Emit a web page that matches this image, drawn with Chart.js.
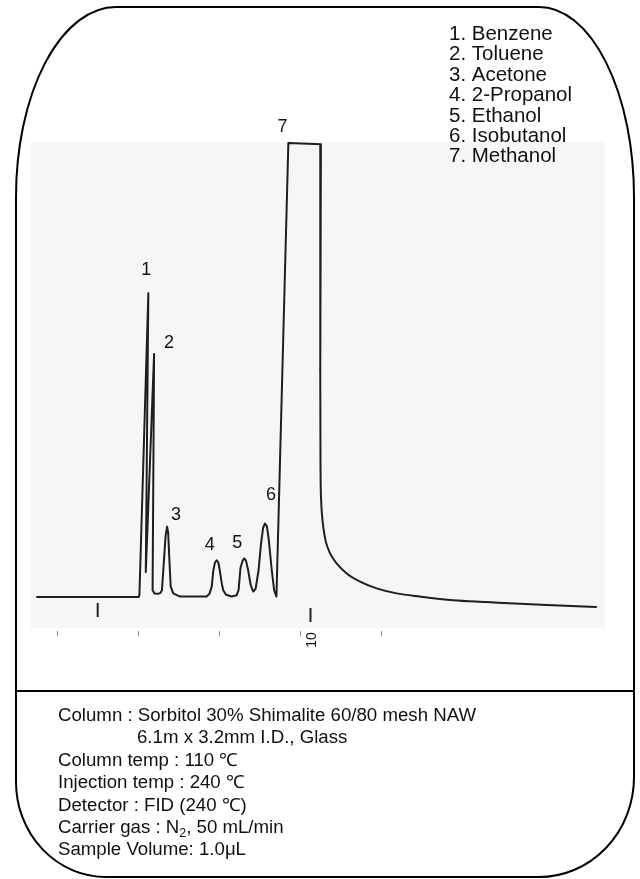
<!DOCTYPE html>
<html>
<head>
<meta charset="utf-8">
<style>
  html, body { margin: 0; padding: 0; background: #ffffff; }
  #wrap { width: 640px; height: 879px; position: relative; }
  canvas { display: block; }
</style>
<script src="https://cdn.jsdelivr.net/npm/chart.js@4.4.1/dist/chart.umd.min.js"></script>
</head>
<body>
<div id="wrap"><canvas id="gc" width="640" height="879"></canvas></div>
<script>
// Recorder trace up to the saturated methanol peak: time (min), signal (% full scale)
const traceTime = [
  -2.85, 1.92, 1.96, 2.38, 2.26, 2.65, 2.58, 2.67, 2.83, 2.95,
  3.02, 3.19, 3.26, 3.31, 3.37, 3.43, 3.55, 3.87, 5.12, 5.25,
  5.36, 5.43, 5.51, 5.59, 5.67, 5.75, 5.83, 5.90, 6.03, 6.30,
  6.53, 6.62, 6.71, 6.81, 6.89, 6.97, 7.07, 7.19, 7.31, 7.42,
  7.56, 7.67, 7.77, 7.86, 7.95, 8.04, 8.18, 8.29, 8.40, 8.96,
  10.49, 10.46
];
const traceSignal = [
  0.0, 0.0, 0.4, 66.9, 5.5, 53.5, 1.5, 0.8, 0.7, 0.9,
  1.5, 13.4, 15.5, 14.3, 8.1, 2.3, 0.8, 0.1, 0.1, 0.7,
  2.3, 5.7, 7.6, 8.1, 7.6, 5.5, 3.0, 1.5, 0.5, 0.1,
  0.4, 1.5, 6.4, 8.0, 8.5, 8.0, 5.9, 2.6, 1.2, 1.8,
  5.9, 11.5, 15.2, 16.2, 15.6, 12.6, 5.9, 1.5, 0.1, 100.0,
  99.7, 50.0
];

// Methanol tailing back to baseline
const tailTime = [
  10.46, 10.47, 10.50, 10.55, 10.62, 10.72, 10.92, 11.23, 11.70, 12.33,
  13.11, 14.05, 15.15, 16.71, 18.28, 19.85, 21.41, 23.42
];
const tailSignal = [
  50.0, 30.0, 21.4, 17.6, 14.8, 12.2, 9.6, 7.4, 5.2, 3.4,
  1.9, 0.8, 0.1, -0.7, -1.1, -1.5, -1.8, -2.2
];

// Peak numbers with apex time and height
const peakNumbers = ['1', '2', '3', '4', '5', '6', '7'];
const peakTime = [2.38, 2.65, 3.26, 5.59, 6.89, 7.86, 9.72];
const peakHeight = [66.9, 53.5, 15.5, 8.1, 8.5, 16.2, 100.0];

// Compound names
const compounds = ['Benzene', 'Toluene', 'Acetone', '2-Propanol', 'Ethanol', 'Isobutanol', 'Methanol'];

// Time marks on the chart paper
const injectionMarks = [0, 10];
const markLabels = ['', '10'];
const paperTicks = [-1.9, 1.9, 5.7, 9.5, 13.3];

// Analysis conditions
const conditions = [
  'Column : Sorbitol 30% Shimalite 60/80 mesh NAW',
  '6.1m x 3.2mm I.D., Glass',
  'Column temp : 110 \u2103',
  'Injection temp : 240 \u2103',
  'Detector : FID (240 \u2103)',
  'Carrier gas : N\u2082, 50 mL/min',
  'Sample Volume: 1.0\u03bcL'
];

// ---- layout (pixels) ----
const FONT = '"Liberation Sans", Arial, sans-serif';
const labelOffsets = [[-2, -23], [15, -11], [9, -12], [-7, -15], [-7, -15], [6, -28], [-22, -16]];
const markTickSpan = [[603, 617], [608, 622]];
const frame = { l: 16, r: 634, t: 7, b: 877 };
const condWidth = 418;   // drawn width of the first conditions line

const decor = {
  id: 'decor',
  beforeDraw(chart) {
    const c = chart.ctx;
    c.save();
    c.fillStyle = '#ffffff';
    c.fillRect(0, 0, chart.width, chart.height);
    // paper background behind the trace
    c.fillStyle = '#f6f6f6';
    c.fillRect(31, 142, 574, 486);
    c.restore();
  },
  afterDraw(chart) {
    const c = chart.ctx;
    const xs = chart.scales.x, ys = chart.scales.y;
    c.save();

    // outer frame with rounded corners
    c.strokeStyle = '#000';
    c.lineWidth = 2;
    c.beginPath();
    const f = frame;
    c.moveTo(f.l + 100, f.t);
    c.lineTo(f.r - 95, f.t);
    c.ellipse(f.r - 95, f.t + 190, 95, 190, 0, -Math.PI / 2, 0);
    c.lineTo(f.r, f.b - 100);
    c.ellipse(f.r - 95, f.b - 100, 95, 100, 0, 0, Math.PI / 2);
    c.lineTo(f.l + 90, f.b);
    c.ellipse(f.l + 90, f.b - 95, 90, 95, 0, Math.PI / 2, Math.PI);
    c.lineTo(f.l, f.t + 190);
    c.ellipse(f.l + 100, f.t + 190, 100, 190, 0, Math.PI, Math.PI * 1.5);
    c.closePath();
    c.stroke();

    // separator above conditions
    c.beginPath();
    c.moveTo(f.l, 691);
    c.lineTo(f.r, 691);
    c.stroke();

    // injection / 10 min marks
    c.strokeStyle = '#222';
    c.lineWidth = 2;
    injectionMarks.forEach((t, i) => {
      const x = xs.getPixelForValue(t);
      c.beginPath();
      c.moveTo(x, markTickSpan[i][0]);
      c.lineTo(x, markTickSpan[i][1]);
      c.stroke();
      if (markLabels[i]) {
        c.save();
        c.translate(x + 1.5, 640);
        c.rotate(-Math.PI / 2);
        c.fillStyle = '#111';
        c.font = '14px ' + FONT;
        c.textAlign = 'center';
        c.textBaseline = 'middle';
        c.fillText(markLabels[i], 0, 0);
        c.restore();
      }
    });

    // small paper ticks
    c.strokeStyle = '#888';
    c.lineWidth = 1;
    paperTicks.forEach(t => {
      const x = Math.round(xs.getPixelForValue(t)) + 0.5;
      c.beginPath();
      c.moveTo(x, 631);
      c.lineTo(x, 636);
      c.stroke();
    });

    // peak numbers
    c.fillStyle = '#111';
    c.font = '18px ' + FONT;
    c.textAlign = 'center';
    c.textBaseline = 'middle';
    peakNumbers.forEach((n, i) => {
      const x = xs.getPixelForValue(peakTime[i]) + labelOffsets[i][0];
      const y = ys.getPixelForValue(peakHeight[i]) + labelOffsets[i][1];
      c.fillText(n, x, y);
    });

    // compound list
    c.font = '20.5px ' + FONT;
    c.textAlign = 'left';
    c.textBaseline = 'alphabetic';
    compounds.forEach((name, i) => {
      c.fillText((i + 1) + '. ' + name, 449, 40 + i * 20.4);
    });

    // conditions, stretched slightly to the width of the printed block
    c.font = '18px ' + FONT;
    const sx = condWidth / c.measureText(conditions[0]).width;
    conditions.forEach((line, i) => {
      const x = i === 1 ? 137 : 58;
      const y = 721 + i * 22.4;
      c.save();
      c.translate(x, y);
      c.scale(sx, 1);
      if (line.indexOf('N\u2082') >= 0) {
        const parts = line.split('N\u2082');
        let cx = 0;
        c.fillText(parts[0] + 'N', cx, 0);
        cx += c.measureText(parts[0] + 'N').width;
        c.font = '12px ' + FONT;
        c.fillText('2', cx, 4);
        cx += c.measureText('2').width;
        c.font = '18px ' + FONT;
        c.fillText(parts[1], cx, 0);
      } else {
        c.fillText(line, 0, 0);
      }
      c.restore();
    });
    c.restore();
  }
};

const toPoints = (xs, ys) => xs.map((t, i) => ({ x: t, y: ys[i] }));

new Chart(document.getElementById('gc'), {
  type: 'line',
  data: {
    datasets: [{
      data: toPoints(traceTime, traceSignal),
      borderColor: '#1e1e1e',
      borderWidth: 2,
      pointRadius: 0,
      tension: 0,
      fill: false,
      borderJoinStyle: 'round',
      borderCapStyle: 'round'
    }, {
      data: toPoints(tailTime, tailSignal),
      borderColor: '#1e1e1e',
      borderWidth: 2,
      pointRadius: 0,
      cubicInterpolationMode: 'monotone',
      fill: false,
      borderJoinStyle: 'round',
      borderCapStyle: 'round'
    }]
  },
  options: {
    responsive: false,
    animation: false,
    devicePixelRatio: 1,
    layout: { padding: { left: 33.86, right: 31.6, top: 120.3, bottom: 227.5 } },
    plugins: { legend: { display: false }, tooltip: { enabled: false } },
    scales: {
      x: { type: 'linear', min: -3, max: 24, display: false },
      y: { type: 'linear', min: -12, max: 105, display: false }
    }
  },
  plugins: [decor]
});
</script>
</body>
</html>
